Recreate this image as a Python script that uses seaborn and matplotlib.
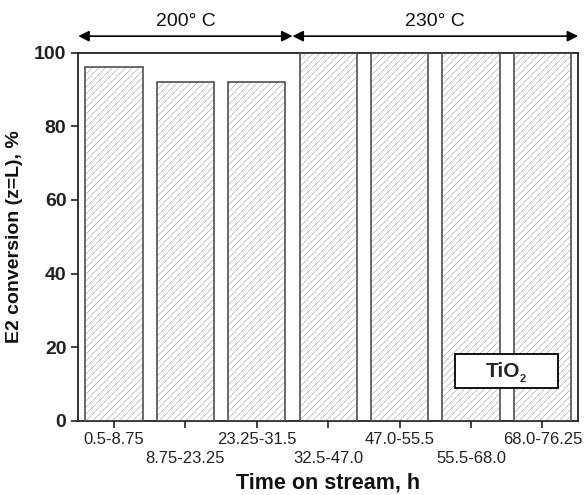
import matplotlib
matplotlib.use("Agg")
import matplotlib.pyplot as plt
from matplotlib.patches import Rectangle
import seaborn as sns

# ── Data ──────────────────────────────────────────────────────────────────────
time_ranges = ["0.5-8.75", "8.75-23.25", "23.25-31.5", "32.5-47.0",
               "47.0-55.5", "55.5-68.0", "68.0-76.25"]
conversion = [96, 92, 92, 100, 100, 100, 100]
temp_labels = ["200° C", "230° C"]
temp_bounds = [-0.5, 2.5, 6.5]   # category edges of each temperature block
y_ticks = [0, 20, 40, 60, 80, 100]

sns.set_style("ticks")
plt.rcParams['font.family'] = ['Liberation Sans', 'DejaVu Sans']
plt.rcParams['hatch.linewidth'] = 0.5

fig = plt.figure(figsize=(5.84, 4.95), dpi=100)
ax = fig.add_axes([0.134, 0.150, 0.856, 0.7435])

# hatched fill (hatch takes the edge colour), then dark outline on top
sns.barplot(x=time_ranges, y=conversion, color="white", saturation=1,
            width=0.8, edgecolor="#b0b0b0", linewidth=0, hatch="/////", ax=ax)
for p in list(ax.patches):
    ax.add_patch(Rectangle(p.get_xy(), p.get_width(), p.get_height(),
                           fill=False, ec="#505050", lw=1.2, zorder=3))

ax.set_xlim(-0.5, 6.5)
ax.set_ylim(0, 100)
ax.set_yticks(y_ticks)
ax.set_yticklabels([str(t) for t in y_ticks], fontsize=14, fontweight="bold",
                   color="#111111")

ax.set_xticks(range(len(time_ranges)))
ax.set_xticklabels(time_ranges, fontsize=12, color="#111111")

ax.tick_params(axis="both", direction="out", length=5, width=1.2, colors="#222222")
ax.tick_params(axis="x", pad=3)
# staggered x labels: every second one pushed down a row
for i, tick in enumerate(ax.xaxis.get_major_ticks()):
    if i % 2 == 1:
        tick.set_pad(16.5)
for s in ax.spines.values():
    s.set_visible(True)
    s.set_linewidth(1.3)
    s.set_color("#222222")

ax.set_xlabel("Time on stream, h", fontsize=15.5, fontweight="bold", labelpad=5,
              color="#111111")
ax.set_ylabel("E2 conversion (z=L), %", fontsize=14, fontweight="bold", labelpad=8,
              color="#111111")

# temperature arrows above the plot
for i, lab in enumerate(temp_labels):
    x0, x1 = temp_bounds[i], temp_bounds[i + 1]
    ax.annotate("", xy=(x0, 104.5), xytext=(x1, 104.5), xycoords="data",
                arrowprops=dict(arrowstyle="<|-|>", color="black", lw=1.2,
                                mutation_scale=16, shrinkA=0, shrinkB=0),
                annotation_clip=False)
    ax.text((x0 + x1) / 2, 106.3, lab, ha="center", va="bottom", fontsize=14,
            color="#111111")

# TiO2 label box
ax.add_patch(Rectangle((0.753, 0.089), 0.206, 0.092, transform=ax.transAxes,
                       fc="white", ec="black", lw=1.3, zorder=5))
ax.text(0.849, 0.135, "TiO", transform=ax.transAxes, ha="center",
        va="center", fontsize=15, fontweight="bold", zorder=6)
ax.text(0.882, 0.113, "2", transform=ax.transAxes, ha="left",
        va="center", fontsize=8, fontweight="bold", zorder=6)

fig.savefig("out.png", dpi=100)
